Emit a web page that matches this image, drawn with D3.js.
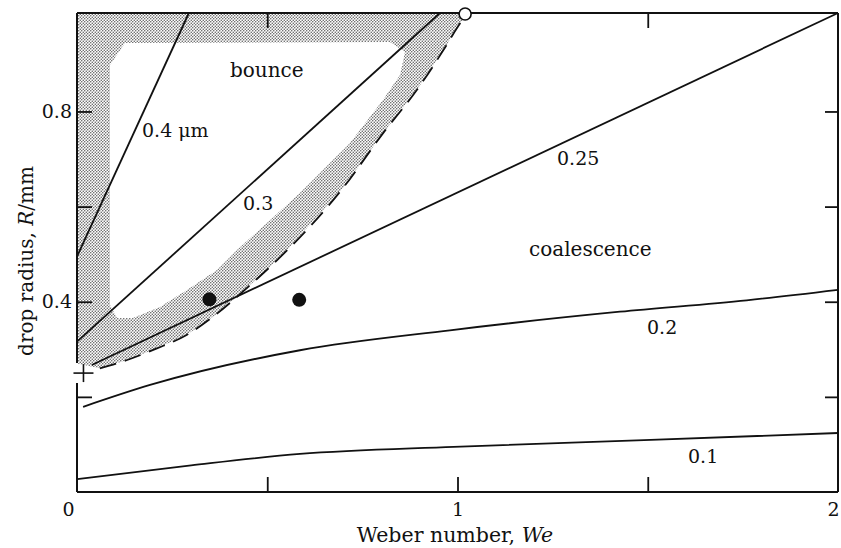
<!DOCTYPE html>
<html>
<head>
<meta charset="utf-8">
<script src="https://cdn.jsdelivr.net/npm/d3@7"></script>
<style>
  html, body { margin: 0; padding: 0; background: #fff; }
  svg { display: block; }
  text { font-family: "DejaVu Serif", serif; fill: #111; }
</style>
</head>
<body>
<svg id="chart" width="841" height="548"></svg>
<script>
// Lines of equal film thickness (µm) in the We–R plane: [Weber number, radius in mm]
const line04  = [[0, 0.495], [0.294, 1.007]];
const line03  = [[0, 0.316], [0.954, 1.007]];
const line025 = [[0.039, 0.267], [2.0, 1.007]];
const line02  = [[0.016, 0.179], [0.192, 0.225], [0.586, 0.298], [0.98, 0.34], [1.427, 0.379], [1.76, 0.403], [2.0, 0.425]];
const line01  = [[0, 0.027], [0.3, 0.056], [0.586, 0.08], [0.99, 0.095], [1.49, 0.109], [2.0, 0.124]];

// Bounce / coalescence boundary (dashed)
const boundary = [[0.06, 0.26], [0.13, 0.277], [0.21, 0.302], [0.288, 0.33], [0.36, 0.37], [0.455, 0.435],
                  [0.542, 0.5], [0.7, 0.64], [0.805, 0.755], [0.893, 0.845], [0.963, 0.929], [1.0, 0.977], [1.02, 1.0]];

// Stippled transition zone: outer rim and the clear bounce interior
const zoneOuter = [[0, 1.007], [1.02, 1.007]];
const zoneInner = [[0.0867, 0.8975], [0.126, 0.944], [0.8226, 0.946], [0.862, 0.925], [0.849, 0.8765],
                   [0.804, 0.824], [0.7175, 0.7336], [0.586, 0.6285], [0.4205, 0.5087], [0.368, 0.4666],
                   [0.289, 0.4246], [0.218, 0.3889], [0.147, 0.3657], [0.105, 0.3657], [0.0867, 0.393]];

// Measured drops
const dropsWe = [0.348, 0.584];
const dropsR  = [0.405, 0.404];
const criticalPoint = [1.02, 1.005];
const crossPoint = [0.017, 0.25];

// Axes
const xTickMarks = [0.5, 1, 1.5];
const xTopMarks = [0.5, 1.5];
const xTickLabels = [0, 1, 2];
const yTickMarks = [0.2, 0.4, 0.6, 0.8];
const yTickLabels = [0.4, 0.8];
const yAxisGap = [0.229, 0.271];

const curveLabels = ["0.4 \u03bcm", "bounce", "0.3", "0.25", "coalescence", "0.2", "0.1"];

const svg = d3.select("#chart");
const x = d3.scaleLinear().domain([0, 2]).range([77, 838]);
const y = d3.scaleLinear().domain([0, 1.007]).range([492, 13]);
const ink = "#111";

// stipple pattern
const defs = svg.append("defs");
const pat = defs.append("pattern").attr("id", "stipple")
  .attr("width", 3).attr("height", 3).attr("patternUnits", "userSpaceOnUse");
pat.append("rect").attr("width", 3).attr("height", 3).attr("fill", "#fff");
pat.append("circle").attr("cx", 0.75).attr("cy", 0.75).attr("r", 0.75).attr("fill", "#555");
pat.append("circle").attr("cx", 2.25).attr("cy", 2.25).attr("r", 0.75).attr("fill", "#555");

const ring = d3.line().x(d => x(d[0])).y(d => y(d[1]));
const outerRing = zoneOuter.concat(boundary.slice().reverse(), [[0, 0.27]]);
svg.append("path")
  .attr("d", ring(outerRing) + "Z" + ring(zoneInner) + "Z")
  .attr("fill", "url(#stipple)")
  .attr("fill-rule", "evenodd");

// frame
const frame = svg.append("g").attr("stroke", ink).attr("stroke-width", 2).attr("fill", "none");
frame.append("line").attr("x1", x(0)).attr("x2", x(2)).attr("y1", y(0)).attr("y2", y(0));
frame.append("line").attr("x1", x(0)).attr("x2", x(2)).attr("y1", y(1.007)).attr("y2", y(1.007));
frame.append("line").attr("x1", x(2)).attr("x2", x(2)).attr("y1", y(0)).attr("y2", y(1.007));
frame.append("line").attr("x1", x(0)).attr("x2", x(0)).attr("y1", y(0)).attr("y2", y(yAxisGap[0]));
frame.append("line").attr("x1", x(0)).attr("x2", x(0)).attr("y1", y(yAxisGap[1])).attr("y2", y(1.007));

function styleTicks(g) {
  g.select(".domain").remove();
  g.selectAll(".tick line").attr("stroke", ink).attr("stroke-width", 1.8);
  g.selectAll(".tick text").remove();
}

svg.append("g").attr("transform", `translate(0,${y(0)})`)
  .call(d3.axisBottom(x).tickValues(xTickMarks).tickSizeInner(-15).tickSizeOuter(0))
  .call(styleTicks);
svg.append("g").attr("transform", `translate(0,${y(1.007)})`)
  .call(d3.axisTop(x).tickValues(xTopMarks).tickSizeInner(-15).tickSizeOuter(0))
  .call(styleTicks);
svg.append("g").attr("transform", `translate(${x(0)},0)`)
  .call(d3.axisLeft(y).tickValues(yTickMarks).tickSizeInner(-15).tickSizeOuter(0))
  .call(styleTicks);
svg.append("g").attr("transform", `translate(${x(2)},0)`)
  .call(d3.axisRight(y).tickValues(yTickMarks).tickSizeInner(-13).tickSizeOuter(0))
  .call(styleTicks);

// tick labels (the origin label sits left of the corner, the last one is kept inside the page)
const xl = svg.append("g").attr("transform", `translate(0,${y(0)})`)
  .call(d3.axisBottom(x).tickValues(xTickLabels).tickSize(0).tickPadding(11).tickFormat(d3.format("d")));
xl.select(".domain").remove();
xl.attr("font-family", null).attr("font-size", 19);
xl.selectAll(".tick text").attr("fill", ink).attr("x", d => d === 0 ? -9 : (d === 2 ? -5 : 0));

const yl = svg.append("g").attr("transform", `translate(${x(0)},0)`)
  .call(d3.axisLeft(y).tickValues(yTickLabels).tickSize(0).tickPadding(5).tickFormat(d3.format(".1f")));
yl.select(".domain").remove();
yl.attr("font-family", null).attr("font-size", 19);
yl.selectAll(".tick text").attr("fill", ink);

// axis titles
const xt = svg.append("text").attr("x", 455).attr("y", 542).attr("text-anchor", "middle").attr("font-size", 20.5);
xt.append("tspan").text("Weber number, ");
xt.append("tspan").attr("font-style", "italic").text("We");

const yt = svg.append("text").attr("transform", "translate(33,261) rotate(-90)")
  .attr("text-anchor", "middle").attr("font-size", 20);
yt.append("tspan").text("drop radius, ");
yt.append("tspan").attr("font-style", "italic").text("R");
yt.append("tspan").text("/mm");

// curves
const curve = d3.line().x(d => x(d[0])).y(d => y(d[1])).curve(d3.curveMonotoneX);
const lines = svg.append("g").attr("fill", "none").attr("stroke", ink).attr("stroke-width", 1.8);
[line04, line03, line025, line02, line01].forEach(l => lines.append("path").attr("d", curve(l)));
lines.append("path").attr("d", curve(boundary)).attr("stroke-dasharray", "17,9");

// markers
svg.append("g").selectAll("circle").data(dropsWe).join("circle")
  .attr("cx", d => x(d)).attr("cy", (d, i) => y(dropsR[i])).attr("r", 7).attr("fill", ink);
svg.append("circle").attr("cx", x(criticalPoint[0])).attr("cy", y(criticalPoint[1]))
  .attr("r", 6).attr("fill", "#fff").attr("stroke", ink).attr("stroke-width", 1.6);
const cp = svg.append("g").attr("stroke", ink).attr("stroke-width", 1.6);
cp.append("line").attr("x1", x(crossPoint[0]) - 10).attr("x2", x(crossPoint[0]) + 10)
  .attr("y1", y(crossPoint[1])).attr("y2", y(crossPoint[1]));
cp.append("line").attr("x1", x(crossPoint[0])).attr("x2", x(crossPoint[0]))
  .attr("y1", y(crossPoint[1]) - 9).attr("y2", y(crossPoint[1]) + 9);

// curve labels
const labelPos = [[142, 137], [230, 77], [243, 210], [557, 165], [529, 256], [647, 334], [688, 463]];
const labelSize = [19, 20, 19, 19, 20, 19, 19];
svg.append("g").selectAll("text").data(curveLabels).join("text")
  .attr("font-size", (d, i) => labelSize[i])
  .attr("x", (d, i) => labelPos[i][0]).attr("y", (d, i) => labelPos[i][1]).text(d => d);
</script>
</body>
</html>
